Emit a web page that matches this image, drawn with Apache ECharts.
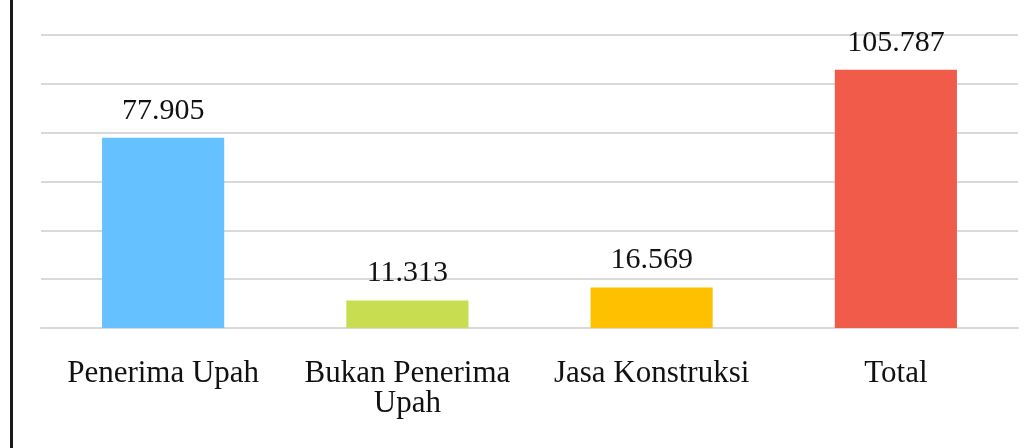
<!DOCTYPE html>
<html>
<head>
<meta charset="utf-8">
<script src="https://cdn.jsdelivr.net/npm/echarts@6/dist/echarts.min.js"></script>
<style>
  html, body { margin: 0; padding: 0; background: #ffffff; }
  #chart { width: 1035px; height: 448px; }
</style>
</head>
<body>
<div id="chart"></div>
<script>
// Kategori peserta dan jumlahnya
const categories = ['Penerima Upah', 'Bukan Penerima\nUpah', 'Jasa Konstruksi', 'Total'];
const values = [77905, 11313, 16569, 105787];
const barColors = ['#65c1ff', '#c9dd50', '#ffc000', '#f05b4a'];

// Axis scale
const axisMin = 0;
const axisMax = 120000;
const axisStep = 20000;

const fontFamily = '"Liberation Serif", "DejaVu Serif", serif';

// Format angka dengan pemisah ribuan titik, mis. 77905 -> 77.905
function formatThousands(v) {
  return String(Math.round(v)).replace(/\B(?=(\d{3})+(?!\d))/g, '.');
}

const chart = echarts.init(document.getElementById('chart'), null, { renderer: 'canvas' });

chart.setOption({
  backgroundColor: '#ffffff',
  animation: false,
  grid: { left: 41, right: 17, top: 35, bottom: 120 },
  graphic: [
    {
      type: 'rect',
      left: 10,
      top: 0,
      shape: { width: 3, height: 448 },
      style: { fill: '#1a1a1a' }
    }
  ],
  xAxis: {
    type: 'category',
    data: categories,
    axisLine: { show: true, lineStyle: { color: '#d9d9d9', width: 2 } },
    axisTick: { show: false },
    axisLabel: {
      color: '#111111',
      fontFamily: fontFamily,
      fontSize: 31,
      lineHeight: 30,
      margin: 31,
      interval: 0
    }
  },
  yAxis: {
    type: 'value',
    min: axisMin,
    max: axisMax,
    interval: axisStep,
    axisLine: { show: false },
    axisTick: { show: false },
    axisLabel: { show: false },
    splitLine: { show: true, lineStyle: { color: '#d9d9d9', width: 2 } }
  },
  series: [
    {
      type: 'bar',
      barWidth: '50%',
      data: values.map((v, i) => ({ value: v, itemStyle: { color: barColors[i] } })),
      label: {
        show: true,
        position: 'top',
        distance: 12,
        color: '#111111',
        fontFamily: fontFamily,
        fontSize: 30,
        lineHeight: 30,
        formatter: (p) => formatThousands(p.value)
      }
    }
  ]
});
</script>
</body>
</html>
